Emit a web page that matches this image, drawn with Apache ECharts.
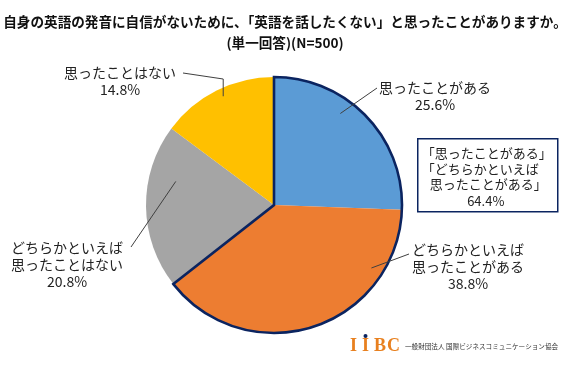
<!DOCTYPE html>
<html>
<head>
<meta charset="utf-8">
<script src="https://cdn.jsdelivr.net/npm/echarts@6/dist/echarts.min.js"></script>
<style>html,body{margin:0;padding:0;background:#fff}#c{width:570px;height:365px}</style>
</head>
<body>
<div id="c"></div>
<script>
const titleLines = ['自身の英語の発音に自信がないために、「英語を話したくない」と思ったことがありますか。', '(単一回答)(N=500)'];
const categories = ['思ったことがある', 'どちらかといえば\n思ったことがある', 'どちらかといえば\n思ったことはない', '思ったことはない'];
const values = [25.6, 38.8, 20.8, 14.8];
const groupNames = ['「思ったことがある」「どちらかといえば思ったことがある」', 'その他'];
const groupValues = [64.4, 35.6];
const boxLines = ['「思ったことがある」', '「どちらかといえば', '思ったことがある」'];
const orgName = '一般財団法人 国際ビジネスコミュニケーション協会';

const FONT = '"Noto Sans CJK JP", "Noto Sans", sans-serif';
const sliceColors = ['#5B9BD5', '#ED7D31', '#A5A5A5', '#FFC000'];
const NAVY = '#0B2460';
const CENTER = [274, 205];
const R = 128;

// label placement (layout config): label centre, leader anchor inside slice (fraction of slice angle, radius), leader end
const labelCfg = [
  {x: 435, y: 96,  frac: 0.39, r: 113, end: [[377, 88]]},
  {x: 468, y: 267, frac: 0.22, r: 116, end: [[409, 254]]},
  {x: 67,  y: 265, frac: 0.69, r: 101, end: [[131, 247]]},
  {x: 120, y: 81,  frac: 0.53, r: 120, end: [['same', 79], [183, 73]]}
];

const total = values.reduce((a, b) => a + b, 0);
function anchorPoint(i) {
  let before = 0;
  for (let k = 0; k < i; k++) before += values[k];
  const a = (before + labelCfg[i].frac * values[i]) / total * 2 * Math.PI;
  return [CENTER[0] + labelCfg[i].r * Math.sin(a), CENTER[1] - labelCfg[i].r * Math.cos(a)];
}

const chart = echarts.init(document.getElementById('c'), null, {renderer: 'canvas'});
chart.setOption({
  animation: false,
  backgroundColor: '#fff',
  title: {
    text: titleLines.join('\n'),
    left: 'center',
    top: 6,
    textStyle: {fontFamily: FONT, fontSize: 13.6, fontWeight: 'bold', color: '#111', lineHeight: 21}
  },
  series: [
    {
      type: 'pie', z: 2, silent: true,
      center: CENTER, radius: R,
      startAngle: 90, clockwise: true,
      label: {show: false}, labelLine: {show: false},
      itemStyle: {borderWidth: 0},
      data: categories.map((n, i) => ({name: n, value: values[i], itemStyle: {color: sliceColors[i]}}))
    },
    {
      type: 'pie', z: 3, silent: true,
      center: CENTER, radius: R,
      startAngle: 90, clockwise: true,
      label: {show: false}, labelLine: {show: false},
      data: groupNames.map((n, i) => ({
        name: n, value: groupValues[i],
        itemStyle: i === 0 ? {color: 'rgba(0,0,0,0)', borderColor: NAVY, borderWidth: 2.6, borderJoin: 'miter'}
                           : {color: 'rgba(0,0,0,0)', borderWidth: 0}
      }))
    },
    {
      type: 'pie', z: 4, silent: true,
      center: CENTER, radius: R,
      startAngle: 90, clockwise: true,
      avoidLabelOverlap: false,
      itemStyle: {color: 'rgba(0,0,0,0)', borderWidth: 0},
      label: {
        show: true, position: 'outside',
        fontFamily: FONT, fontSize: 14, lineHeight: 17, color: '#222',
        formatter: p => p.name + '\n' + p.value.toFixed(1) + '%'
      },
      labelLine: {show: true, length: 10, length2: 0, lineStyle: {color: '#404040', width: 1}},
      labelLayout: p => {
        const c = labelCfg[p.dataIndex];
        const s = anchorPoint(p.dataIndex);
        const pts = [s].concat(c.end.map(e => [e[0] === 'same' ? s[0] : e[0], e[1]]));
        return {x: c.x, y: c.y, align: 'center', verticalAlign: 'middle', labelLinePoints: pts};
      },
      data: categories.map((n, i) => ({name: n, value: values[i]}))
    }
  ],
  graphic: [
    {
      type: 'group', left: 417, top: 138,
      children: [
        {type: 'rect', shape: {x: 0, y: 0, width: 140, height: 73}, style: {fill: '#fff', stroke: NAVY, lineWidth: 1.5}},
        {type: 'text', x: 4, y: 14, style: {text: boxLines[0], font: '13px ' + FONT, fill: '#222', textVerticalAlign: 'middle'}},
        {type: 'text', x: 4, y: 30, style: {text: boxLines[1], font: '13px ' + FONT, fill: '#222', textVerticalAlign: 'middle'}},
        {type: 'text', x: 12, y: 45, style: {text: boxLines[2], font: '13px ' + FONT, fill: '#222', textVerticalAlign: 'middle'}},
        {type: 'text', x: 68, y: 62, style: {text: groupValues[0].toFixed(1) + '%', font: '13px ' + FONT, fill: '#222', textAlign: 'center', textVerticalAlign: 'middle'}}
      ]
    },
    {
      type: 'group', left: 350, top: 334,
      children: [
        {type: 'text', x: 2, y: 12, style: {text: 'I', font: 'bold 18px "Liberation Serif", serif', fill: '#E8801F', textVerticalAlign: 'middle'}},
        {type: 'text', x: 14, y: 12, style: {text: 'I', font: 'bold 18px "Liberation Serif", serif', fill: '#E8801F', textVerticalAlign: 'middle'}},
        {type: 'text', x: 26, y: 12, style: {text: 'B', font: 'bold 18px "Liberation Serif", serif', fill: '#E8801F', textVerticalAlign: 'middle'}},
        {type: 'text', x: 39, y: 12, style: {text: 'C', font: 'bold 18px "Liberation Serif", serif', fill: '#E8801F', textVerticalAlign: 'middle'}},
        {type: 'circle', shape: {cx: 17.5, cy: 2, r: 2}, style: {fill: NAVY}},
        {type: 'text', x: 57, y: 12, style: {text: orgName, font: '6.6px ' + FONT, fill: '#333', textVerticalAlign: 'middle'}}
      ]
    }
  ]
});
</script>
</body>
</html>
